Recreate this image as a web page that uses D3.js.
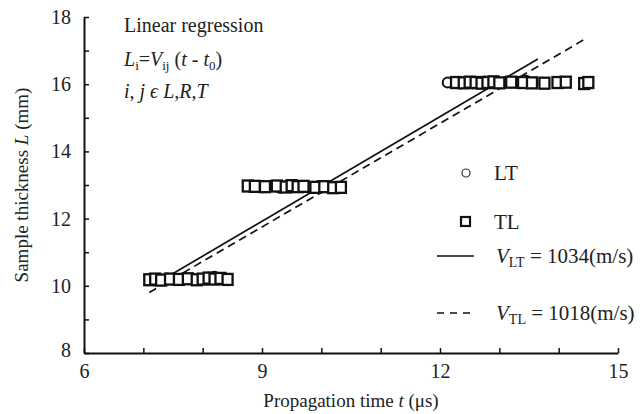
<!DOCTYPE html>
<html>
<head>
<meta charset="utf-8">
<script src="https://cdn.jsdelivr.net/npm/d3@7"></script>
<style>
  body { margin: 0; background: #fff; }
  text { font-family: "Liberation Serif", "Times New Roman", serif; fill: #222; }
</style>
</head>
<body>
<svg width="643" height="414"></svg>
<script>
// LT (circles) and TL (squares) measurements: propagation time t (us), thickness L (mm)
var ltTime = [7.25, 7.4, 7.55, 7.7, 7.85, 7.95, 8.05, 8.1, 8.15, 8.2, 8.25, 8.3,
              9.0, 9.1, 9.2, 9.3, 9.4, 9.5, 9.55, 9.65, 9.75, 9.85, 9.95, 10.0,
              12.13, 12.35, 12.45, 12.55, 12.65, 12.75, 12.85, 12.95, 13.05, 13.15, 13.3, 13.45];
var ltThick = [10.2, 10.22, 10.18, 10.2, 10.17, 10.2, 10.22, 10.25, 10.2, 10.27, 10.22, 10.2,
               12.93, 12.95, 12.97, 12.92, 12.96, 12.98, 12.94, 12.96, 12.93, 12.95, 12.97, 12.94,
               16.05, 16.03, 16.07, 16.02, 16.05, 16.08, 16.03, 16.06, 16.04, 16.08, 16.05, 16.1];
var tlTime = [7.1, 7.2, 7.3, 7.45, 7.6, 7.75, 7.9, 8.0, 8.1, 8.2, 8.3, 8.42,
              8.76, 8.88, 9.05, 9.25, 9.4, 9.5, 9.6, 9.7, 9.9, 10.05, 10.2, 10.33,
              12.27, 12.4, 12.5, 12.6, 12.7, 12.8, 12.9, 13.0, 13.2, 13.4, 13.55, 13.76, 13.98, 14.12, 14.43, 14.5];
var tlThick = [10.18, 10.2, 10.17, 10.2, 10.19, 10.21, 10.18, 10.2, 10.23, 10.2, 10.22, 10.19,
               12.97, 12.96, 12.95, 12.97, 12.94, 12.98, 12.95, 12.96, 12.93, 12.95, 12.92, 12.93,
               16.05, 16.04, 16.06, 16.05, 16.03, 16.05, 16.07, 16.04, 16.06, 16.05, 16.04, 16.03, 16.05, 16.06, 16.02, 16.05];

// regression line end points
var ltFitT = [7.15, 13.65];
var ltFitL = [10.0, 16.75];
var tlFitT = [7.1, 14.45];
var tlFitL = [9.8, 17.35];

var xTicks = [6, 9, 12, 15];
var yTicks = [8, 10, 12, 14, 16, 18];

var svg = d3.select("svg");

var margins = { left: 84, right: 25, top: 17, bottom: 61 };
var width = 643 - margins.left - margins.right;
var height = 414 - margins.top - margins.bottom;

var xScale = d3.scaleLinear().domain([6, 15]).range([margins.left, margins.left + width]);
var yScale = d3.scaleLinear().domain([8, 18]).range([margins.top + height, margins.top]);

// axes: inward ticks every unit, labels only on major ones
var xAxis = d3.axisBottom(xScale)
              .tickValues(d3.range(6, 16, 1))
              .tickSizeInner(-5).tickSizeOuter(0)
              .tickFormat(function(d) { return xTicks.indexOf(d) >= 0 ? d : ""; });
var yAxis = d3.axisLeft(yScale)
              .tickValues(d3.range(8, 19, 1))
              .tickSizeInner(-5).tickSizeOuter(0)
              .tickFormat(function(d) { return yTicks.indexOf(d) >= 0 ? d : ""; });

var gx = svg.append("g")
   .attr("transform", "translate(0," + (margins.top + height) + ")")
   .call(xAxis);
gx.select(".domain").attr("stroke", "#111").attr("stroke-width", 2);
gx.selectAll(".tick line").attr("stroke", "#111").attr("stroke-width", 1.5);
gx.selectAll(".tick text")
  .attr("y", 11).attr("font-size", 20).attr("font-family", "Liberation Serif").attr("fill", "#222");

var gy = svg.append("g")
   .attr("transform", "translate(" + margins.left + ",0)")
   .call(yAxis);
gy.select(".domain").attr("stroke", "#111").attr("stroke-width", 2);
gy.selectAll(".tick line").attr("stroke", "#111").attr("stroke-width", 1.5);
gy.selectAll(".tick text")
  .attr("x", -13).attr("font-size", 20).attr("font-family", "Liberation Serif").attr("fill", "#222");
gy.selectAll(".tick").filter(function(d) { return d === 8; }).select("text").attr("dy", "0.15em");

// regression lines
var fitLine = d3.line()
                .x(function(d) { return xScale(d[0]); })
                .y(function(d) { return yScale(d[1]); });

svg.append("path")
   .datum(d3.zip(ltFitT, ltFitL))
   .attr("d", fitLine)
   .attr("fill", "none").attr("stroke", "#111").attr("stroke-width", 1.7);
svg.append("path")
   .datum(d3.zip(tlFitT, tlFitL))
   .attr("d", fitLine)
   .attr("fill", "none").attr("stroke", "#111").attr("stroke-width", 1.7)
   .attr("stroke-dasharray", "8,5");

// data points
svg.selectAll("circle.lt")
   .data(d3.zip(ltTime, ltThick))
   .enter()
   .append("circle")
   .attr("class", "lt")
   .attr("cx", function(d) { return xScale(d[0]); })
   .attr("cy", function(d) { return yScale(d[1]); })
   .attr("r", 5)
   .attr("fill", "#fff").attr("stroke", "#111").attr("stroke-width", 2);

svg.selectAll("rect.tl")
   .data(d3.zip(tlTime, tlThick))
   .enter()
   .append("rect")
   .attr("class", "tl")
   .attr("x", function(d) { return xScale(d[0]) - 5; })
   .attr("y", function(d) { return yScale(d[1]) - 5.5; })
   .attr("width", 10).attr("height", 11)
   .attr("fill", "#fff").attr("stroke", "#111").attr("stroke-width", 2.3);

// annotation
var note = svg.append("g").attr("font-size", 20);
note.append("text").attr("x", 124).attr("y", 32).text("Linear regression");
var eq = note.append("text").attr("x", 124).attr("y", 66).attr("font-style", "italic");
eq.append("tspan").text("L");
eq.append("tspan").attr("font-size", 13).attr("dy", 4).attr("font-style", "normal").text("i");
eq.append("tspan").attr("dy", -4).attr("font-style", "normal").text("=");
eq.append("tspan").text("V");
eq.append("tspan").attr("font-size", 13).attr("dy", 4).attr("font-style", "normal").text("ij");
eq.append("tspan").attr("dy", -4).attr("font-style", "normal").text(" (");
eq.append("tspan").text("t");
eq.append("tspan").attr("font-style", "normal").text(" - ");
eq.append("tspan").text("t");
eq.append("tspan").attr("font-size", 13).attr("dy", 4).attr("font-style", "normal").text("0");
eq.append("tspan").attr("dy", -4).attr("font-style", "normal").text(")");
note.append("text").attr("x", 124).attr("y", 98).attr("font-style", "italic").text("i, j \u03F5 L,R,T");

// legend
var legend = svg.append("g").attr("font-size", 21);
legend.append("circle").attr("cx", 466).attr("cy", 173).attr("r", 4)
      .attr("fill", "#fff").attr("stroke", "#333").attr("stroke-width", 1.2);
legend.append("text").attr("x", 494).attr("y", 180).text("LT");
legend.append("rect").attr("x", 461).attr("y", 217).attr("width", 9).attr("height", 9)
      .attr("fill", "#fff").attr("stroke", "#111").attr("stroke-width", 2.2);
legend.append("text").attr("x", 494).attr("y", 229).text("TL");
legend.append("line").attr("x1", 437).attr("x2", 474).attr("y1", 256).attr("y2", 256)
      .attr("stroke", "#111").attr("stroke-width", 1.7);
var v1 = legend.append("text").attr("x", 496).attr("y", 263);
v1.append("tspan").attr("font-style", "italic").text("V");
v1.append("tspan").attr("font-size", 14).attr("dy", 4).text("LT");
v1.append("tspan").attr("dy", -4).text(" = 1034(m/s)");
legend.append("line").attr("x1", 437).attr("x2", 474).attr("y1", 313).attr("y2", 313)
      .attr("stroke", "#111").attr("stroke-width", 1.7).attr("stroke-dasharray", "7,6");
var v2 = legend.append("text").attr("x", 496).attr("y", 320);
v2.append("tspan").attr("font-style", "italic").text("V");
v2.append("tspan").attr("font-size", 14).attr("dy", 4).text("TL");
v2.append("tspan").attr("dy", -4).text(" = 1018(m/s)");

// axis titles
var xt = svg.append("text")
   .attr("x", xScale(10.5)).attr("y", 407)
   .attr("text-anchor", "middle").attr("font-size", 19);
xt.append("tspan").text("Propagation time ");
xt.append("tspan").attr("font-style", "italic").text("t");
xt.append("tspan").text(" (\u03BCs)");

var yt = svg.append("text")
   .attr("transform", "translate(28," + yScale(13) + ") rotate(-90)")
   .attr("text-anchor", "middle").attr("font-size", 19);
yt.append("tspan").text("Sample thickness ");
yt.append("tspan").attr("font-style", "italic").text("L");
yt.append("tspan").text(" (mm)");
</script>
</body>
</html>
